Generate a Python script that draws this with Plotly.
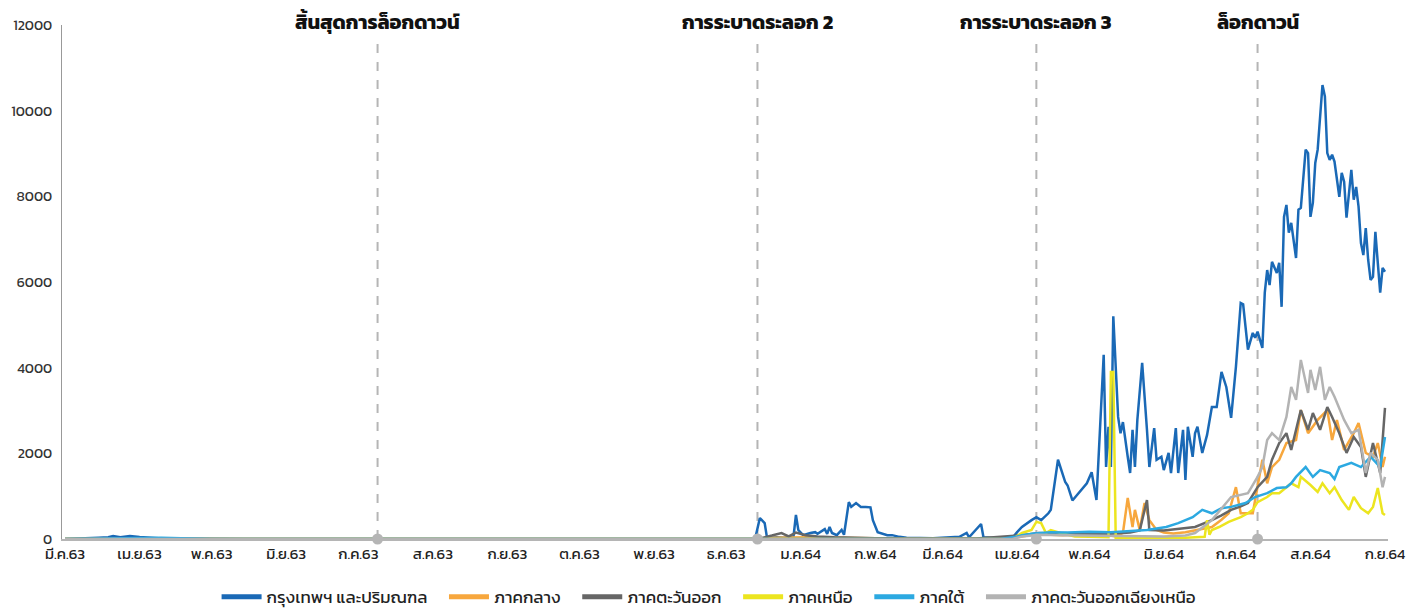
import plotly.graph_objects as go

# ---------------- data ----------------
tick_dates = ["2020-03-01", "2020-04-01", "2020-05-01", "2020-06-01", "2020-07-01", "2020-08-01",
              "2020-09-01", "2020-10-01", "2020-11-01", "2020-12-01", "2021-01-01", "2021-02-01",
              "2021-03-01", "2021-04-01", "2021-05-01", "2021-06-01", "2021-07-01", "2021-08-01",
              "2021-09-01"]
tick_labels = ["มี.ค.63", "เม.ย.63", "พ.ค.63", "มิ.ย.63", "ก.ค.63", "ส.ค.63", "ก.ย.63", "ต.ค.63",
               "พ.ย.63", "ธ.ค.63", "ม.ค.64", "ก.พ.64", "มี.ค.64", "เม.ย.64", "พ.ค.64", "มิ.ย.64",
               "ก.ค.64", "ส.ค.64", "ก.ย.64"]

event_dates = ["2020-07-09", "2020-12-14", "2021-04-09", "2021-07-10"]
event_labels = ["สิ้นสุดการล็อกดาวน์", "การระบาดระลอก 2", "การระบาดระลอก 3", "ล็อกดาวน์"]

series_names = ["กรุงเทพฯ และปริมณฑล", "ภาคกลาง", "ภาคตะวันออก", "ภาคเหนือ", "ภาคใต้",
                "ภาคตะวันออกเฉียงเหนือ"]

bkk_dates = ["2020-03-01", "2020-03-10", "2020-03-15", "2020-03-19", "2020-03-21", "2020-03-24",
             "2020-03-28", "2020-04-01", "2020-04-05", "2020-04-09", "2020-04-17", "2020-04-26",
             "2020-05-15", "2020-12-13",
             "2020-12-15", "2020-12-17", "2020-12-18", "2020-12-22", "2020-12-25", "2020-12-29",
             "2020-12-30", "2020-12-31", "2021-01-02", "2021-01-05", "2021-01-07", "2021-01-08",
             "2021-01-11", "2021-01-12", "2021-01-13", "2021-01-14", "2021-01-16", "2021-01-18",
             "2021-01-19", "2021-01-21", "2021-01-22", "2021-01-24", "2021-01-26", "2021-01-28",
             "2021-01-30", "2021-01-31", "2021-02-02", "2021-02-06", "2021-02-08", "2021-02-11",
             "2021-02-14", "2021-02-25", "2021-03-08", "2021-03-11", "2021-03-12", "2021-03-17",
             "2021-03-18", "2021-03-25", "2021-03-30", "2021-04-01", "2021-04-03", "2021-04-07",
             "2021-04-09", "2021-04-11", "2021-04-14", "2021-04-15", "2021-04-18", "2021-04-21",
             "2021-04-22", "2021-04-24", "2021-04-27", "2021-04-30", "2021-05-02", "2021-05-04",
             "2021-05-07", "2021-05-08", "2021-05-09", "2021-05-10", "2021-05-11", "2021-05-13",
             "2021-05-14", "2021-05-15", "2021-05-17", "2021-05-18", "2021-05-19", "2021-05-20",
             "2021-05-21", "2021-05-23", "2021-05-25", "2021-05-26", "2021-05-28", "2021-05-29",
             "2021-05-31", "2021-06-01", "2021-06-03", "2021-06-04", "2021-06-06", "2021-06-07",
             "2021-06-09", "2021-06-10", "2021-06-11", "2021-06-13", "2021-06-14", "2021-06-15",
             "2021-06-17", "2021-06-19", "2021-06-21", "2021-06-23", "2021-06-25", "2021-06-27",
             "2021-06-29", "2021-07-01", "2021-07-03", "2021-07-04", "2021-07-06", "2021-07-08",
             "2021-07-09", "2021-07-10", "2021-07-12", "2021-07-13", "2021-07-14", "2021-07-15",
             "2021-07-16", "2021-07-18", "2021-07-19", "2021-07-20", "2021-07-21", "2021-07-22",
             "2021-07-23", "2021-07-24", "2021-07-26", "2021-07-27", "2021-07-28", "2021-07-30",
             "2021-07-31", "2021-08-01", "2021-08-02", "2021-08-03", "2021-08-04", "2021-08-06",
             "2021-08-07", "2021-08-08", "2021-08-09", "2021-08-10", "2021-08-11", "2021-08-13",
             "2021-08-14", "2021-08-15", "2021-08-16", "2021-08-17", "2021-08-18", "2021-08-19",
             "2021-08-20", "2021-08-21", "2021-08-22", "2021-08-23", "2021-08-24", "2021-08-25",
             "2021-08-26", "2021-08-27", "2021-08-28", "2021-08-29", "2021-08-30", "2021-08-31",
             "2021-09-01"]
bkk_values = [0, 10, 30, 40, 70, 40,
              70, 45, 30, 20, 10, 5,
              0, 0,
              490, 370, 20, 40, 30, 60,
              560, 210, 90, 140, 160, 120,
              230, 120, 280, 140, 90, 210,
              100, 860, 750, 840, 750, 750,
              740, 440, 160, 90, 90, 50,
              30, 20, 50, 140, 40, 350,
              40, 20, 20, 160, 280, 440,
              510, 440, 600, 680, 1850, 1330,
              1250, 900, 1100, 1300, 1560, 910,
              4300, 1680, 2620, 1680, 5200, 2850,
              2470, 2730, 1920, 1540, 2550, 1680,
              2780, 4110, 2550, 1680, 2590, 1850,
              1920, 1610, 2010, 1540, 2590, 1540,
              2550, 1380, 2620, 1920, 2470, 2620,
              2010, 2430, 3080, 3080, 3900, 3550,
              2830, 4020, 5510, 5480, 4420, 4810,
              4700, 4840, 4460, 5750, 6280, 5930,
              6470, 6210, 6450, 5420, 7520, 7800,
              7150, 7380, 6560, 7690, 7730, 9090,
              9010, 7520, 7850, 8780, 9090, 10600,
              10330, 9010, 8850, 8970, 8810, 7990,
              8550, 8340, 7500, 8080, 8620, 7920,
              8220, 7760, 6910, 6630, 7260, 6520,
              6050, 6120, 7170, 6450, 5750, 6330,
              6240]

central_dates = ["2020-03-01", "2020-12-14", "2020-12-20", "2021-01-05", "2021-02-01", "2021-03-15",
                 "2021-04-01", "2021-04-05", "2021-04-10", "2021-04-15", "2021-04-20", "2021-04-25",
                 "2021-05-01", "2021-05-08", "2021-05-12", "2021-05-15", "2021-05-17", "2021-05-19",
                 "2021-05-20", "2021-05-22", "2021-05-24", "2021-05-26", "2021-05-29", "2021-06-01",
                 "2021-06-05", "2021-06-10", "2021-06-15", "2021-06-21", "2021-06-25", "2021-06-28",
                 "2021-07-01", "2021-07-03", "2021-07-08", "2021-07-12", "2021-07-14", "2021-07-16",
                 "2021-07-19", "2021-07-22", "2021-07-26", "2021-07-28", "2021-07-31", "2021-08-04",
                 "2021-08-08", "2021-08-10", "2021-08-12", "2021-08-15", "2021-08-19", "2021-08-21",
                 "2021-08-24", "2021-08-27", "2021-08-29", "2021-08-31", "2021-09-01"]
central_values = [0, 0, 30, 40, 20, 10,
                  40, 80, 120, 100, 90, 100,
                  80, 100, 60, 140, 960, 280,
                  680, 210, 840, 440, 210, 150,
                  130, 160, 220, 280, 450, 600,
                  1210, 600, 600, 1850, 1300, 1680,
                  1850, 2240, 2310, 3010, 2470, 2780,
                  3010, 2310, 2780, 2080, 2470, 2710,
                  2010, 1920, 2240, 1680, 1920]

east_dates = ["2020-03-01", "2020-12-14", "2020-12-20", "2020-12-24", "2020-12-27", "2020-12-30",
              "2021-01-03", "2021-01-08", "2021-01-15", "2021-02-01", "2021-03-15", "2021-04-03",
              "2021-04-10", "2021-04-20", "2021-05-01", "2021-05-10", "2021-05-18", "2021-05-22",
              "2021-05-25", "2021-05-26", "2021-06-01", "2021-06-08", "2021-06-14", "2021-06-21",
              "2021-06-25", "2021-06-29", "2021-07-03", "2021-07-06", "2021-07-10", "2021-07-14",
              "2021-07-16", "2021-07-19", "2021-07-22", "2021-07-24", "2021-07-28", "2021-07-31",
              "2021-08-02", "2021-08-05", "2021-08-08", "2021-08-10", "2021-08-13", "2021-08-16",
              "2021-08-19", "2021-08-22", "2021-08-24", "2021-08-27", "2021-08-30", "2021-09-01"]
east_values = [0, 0, 80, 140, 60, 150,
               90, 60, 40, 20, 10, 90,
               140, 120, 130, 120, 150, 200,
               910, 210, 200, 250, 280, 440,
               550, 680, 760, 840, 1210, 1450,
               1850, 2240, 2470, 2080, 3010, 2550,
               2940, 2550, 3080, 2850, 2470, 2010,
               2380, 2150, 1450, 2240, 1540, 3060]

north_dates = ["2020-03-01", "2021-03-30", "2021-04-03", "2021-04-07", "2021-04-09", "2021-04-11",
               "2021-04-13", "2021-04-15", "2021-04-19", "2021-04-25", "2021-05-01", "2021-05-09",
               "2021-05-10", "2021-05-11", "2021-05-12", "2021-05-20", "2021-06-01", "2021-06-10",
               "2021-06-18", "2021-06-19", "2021-06-20", "2021-06-21", "2021-06-24", "2021-06-28",
               "2021-07-03", "2021-07-06", "2021-07-08", "2021-07-10", "2021-07-14", "2021-07-16",
               "2021-07-19", "2021-07-22", "2021-07-24", "2021-07-27", "2021-07-28", "2021-08-01",
               "2021-08-04", "2021-08-06", "2021-08-09", "2021-08-11", "2021-08-14", "2021-08-17",
               "2021-08-19", "2021-08-22", "2021-08-25", "2021-08-27", "2021-08-29", "2021-08-31",
               "2021-09-01"]
north_values = [0, 0, 140, 210, 400, 370,
                140, 210, 140, 60, 50, 40,
                3900, 3900, 30, 20, 20, 30,
                50, 440, 100, 210, 280, 400,
                510, 600, 680, 860, 980, 1070,
                1070, 1210, 1300, 1210, 1450, 1260,
                1100, 1300, 1070, 1210, 910, 680,
                980, 720, 600, 750, 1190, 600,
                560]

south_dates = ["2020-03-01", "2020-03-25", "2020-04-10", "2020-05-01", "2021-03-25", "2021-04-01",
               "2021-04-03", "2021-04-08", "2021-04-15", "2021-04-22", "2021-05-01", "2021-05-10",
               "2021-05-18", "2021-05-25", "2021-06-02", "2021-06-07", "2021-06-13", "2021-06-17",
               "2021-06-21", "2021-06-25", "2021-06-29", "2021-07-05", "2021-07-09", "2021-07-14",
               "2021-07-18", "2021-07-22", "2021-07-24", "2021-07-26", "2021-07-30", "2021-08-02",
               "2021-08-05", "2021-08-09", "2021-08-11", "2021-08-13", "2021-08-18", "2021-08-22",
               "2021-08-26", "2021-08-30", "2021-09-01"]
south_values = [0, 20, 30, 0, 0, 60,
                90, 130, 160, 150, 170, 160,
                180, 210, 280, 370, 510, 680,
                600, 720, 750, 840, 980, 1070,
                1190, 1210, 1300, 1450, 1680, 1450,
                1610, 1540, 1400, 1680, 1780, 1680,
                1920, 1680, 2380]

northeast_dates = ["2020-03-01", "2021-03-30", "2021-04-03", "2021-04-10", "2021-04-20", "2021-05-01",
                   "2021-05-15", "2021-06-01", "2021-06-10", "2021-06-14", "2021-06-21", "2021-06-25",
                   "2021-06-29", "2021-07-06", "2021-07-10", "2021-07-12", "2021-07-14", "2021-07-16",
                   "2021-07-19", "2021-07-22", "2021-07-24", "2021-07-26", "2021-07-28", "2021-07-31",
                   "2021-08-01", "2021-08-03", "2021-08-05", "2021-08-07", "2021-08-09", "2021-08-11",
                   "2021-08-15", "2021-08-18", "2021-08-21", "2021-08-24", "2021-08-26", "2021-08-29",
                   "2021-08-31", "2021-09-01"]
northeast_values = [0, 0, 60, 100, 90, 80,
                    70, 60, 80, 140, 440, 700,
                    980, 1070, 1450, 1680, 2310, 2470,
                    2310, 2850, 3550, 3250, 4180, 3410,
                    3950, 3480, 4020, 3250, 3550, 3320,
                    2780, 2470, 2550, 1540, 2010, 1850,
                    1210, 1450]

# ---------------- styling ----------------
colors = ["#1a69b6", "#f7a73d", "#666666", "#ece51f", "#2ca9e1", "#b3b3b3"]
FONT = "Kanit, Sarabun, 'Noto Sans Thai', Loma, Tahoma, 'DejaVu Sans', sans-serif"
GAP = "\u00a0\u00a0\u00a0"

all_series = [(bkk_dates, bkk_values), (central_dates, central_values), (east_dates, east_values),
              (north_dates, north_values), (south_dates, south_values),
              (northeast_dates, northeast_values)]

fig = go.Figure()

# event dashed lines + dots
for d in event_dates:
    fig.add_shape(type="line", xref="x", yref="y", x0=d, x1=d, y0=0, y1=11650,
                  line=dict(color="#b5b5b5", width=2, dash="dash"), layer="below")

for (d, v), name, c in zip(all_series, series_names, colors):
    fig.add_trace(go.Scatter(x=d, y=v, mode="lines", name=name, showlegend=False,
                             line=dict(color=c, width=2.5)))

# legend-only entries with thicker strokes
for i, (name, c) in enumerate(zip(series_names, colors)):
    label = name + (GAP if i < len(series_names) - 1 else "")
    fig.add_trace(go.Scatter(x=[None], y=[None], mode="lines", name=label,
                             line=dict(color=c, width=5)))

fig.add_trace(go.Scatter(x=event_dates, y=[0] * len(event_dates), mode="markers",
                         marker=dict(color="#b5b5b5", size=11), showlegend=False,
                         cliponaxis=False, hoverinfo="skip"))

for d, t in zip(event_dates, event_labels):
    fig.add_annotation(x=d, xref="x", y=1, yref="paper", yanchor="middle", yshift=3,
                       text="<b>" + t + "</b>", showarrow=False,
                       font=dict(size=20, color="#111111", family=FONT))

fig.update_layout(
    width=1427, height=609,
    margin=dict(l=54, r=47, t=17, b=78, autoexpand=False),
    plot_bgcolor="white", paper_bgcolor="white",
    font=dict(family=FONT, size=14, color="#333333"),
    showlegend=True,
    legend=dict(orientation="h", x=0.488, xanchor="center", y=-0.113, yanchor="middle",
                font=dict(size=17, color="#222222"), itemwidth=40, tracegroupgap=0,
                bgcolor="rgba(0,0,0,0)"),
    xaxis=dict(type="date", range=["2020-02-28 18:00", "2021-09-02 06:00"],
               tickvals=tick_dates, ticktext=tick_labels, showgrid=False, zeroline=False,
               showline=True, linecolor="#b5b5b5", linewidth=2, ticks="", automargin=False,
               tickfont=dict(size=15, color="#222222")),
    yaxis=dict(range=[0, 12000], tickvals=[0, 2000, 4000, 6000, 8000, 10000, 12000],
               ticktext=["0", "2000", "4000", "6000", "8000", "10000", "12000"],
               showgrid=False, zeroline=False, showline=True, linecolor="#999999", linewidth=1,
               ticks="", automargin=False, ticklabelstandoff=6,
               tickfont=dict(size=14, color="#333333")),
)

fig.write_html("out.html")
